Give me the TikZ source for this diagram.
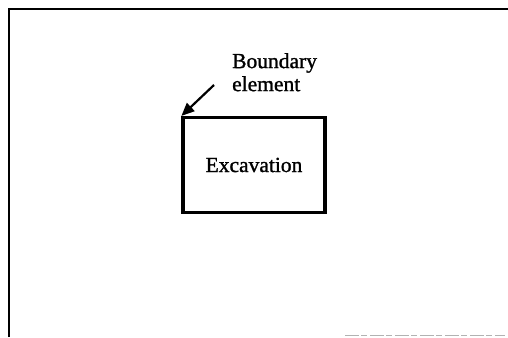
\documentclass[tikz,border=0pt]{standalone}
\usepackage{fontspec}
\setmainfont{Liberation Serif}[FakeBold=1.2]
\usetikzlibrary{arrows.meta}
\begin{document}
\begin{tikzpicture}[x=1pt,y=-1pt,
  frameline/.style={line width=2pt,black},
  boxstyle/.style={draw,line width=3.2pt,minimum width=142pt,minimum height=95pt,inner sep=0pt,font=\fontsize{21.5}{23}\selectfont},
  labelstyle/.style={align=left,anchor=north west,inner sep=0pt,font=\fontsize{21.5}{23}\selectfont},
  pointer/.style={line width=2.2pt,-{Triangle[length=13pt,width=11pt]}}]
\useasboundingbox (0,0) rectangle (508,337);
\fill[white] (0,0) rectangle (508,337);
\coordinate (tl) at (9,9);
\coordinate (tr) at (508,9);
\coordinate (bl) at (9,337);
\coordinate (b1) at (345,335.5);
\coordinate (b2) at (505,335.5);
\draw[frameline] (bl) -- (tl) -- (tr);
\draw[gray!60,line width=0.8pt,dash pattern=on 14pt off 2pt on 6pt off 3pt] (b1) -- (b2);
\node[boxstyle] (exc) at (254,165) {Excavation};
\node[labelstyle] (lab) at (232,53) {Boundary\\element};
\coordinate (astart) at (214,85);
\draw[pointer] (astart) -- (exc.north west);
\end{tikzpicture}
\end{document}
